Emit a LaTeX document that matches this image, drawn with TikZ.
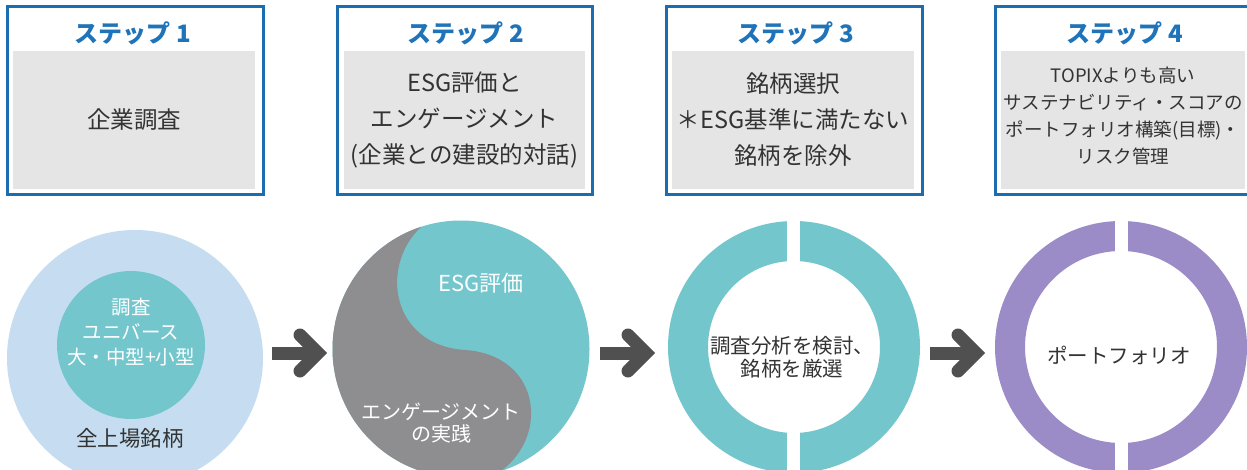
\documentclass[tikz,border=0pt]{standalone}
\usepackage{fontspec}
\setmainfont{Noto Sans CJK JP}
\usetikzlibrary{calc}
\definecolor{bordblue}{HTML}{1B6DB0}
\definecolor{titleblue}{HTML}{1E73B9}
\definecolor{boxgray}{HTML}{E5E5E5}
\definecolor{darktext}{HTML}{333333}
\definecolor{lblue}{HTML}{C6DDF1}
\definecolor{teal}{HTML}{74C6CD}
\definecolor{yingray}{HTML}{8E8D90}
\definecolor{purple}{HTML}{9B8CC8}
\definecolor{arrowgray}{HTML}{505050}
\newcommand\fatarrow[2]{%
  \draw[arrowshaft] (#1) -- ($(#2)+(-9,0)$);
  \draw[arrowhead] ($(#2)+(-27,-18)$) -- ($(#2)+(-9,0)$) -- ($(#2)+(-27,18)$);
}
\begin{document}
\begin{tikzpicture}[x=1pt,y=-1pt,
  stepframe/.style={draw=bordblue, line width=3pt, minimum width=256pt, minimum height=188pt, inner sep=0pt},
  graybox/.style={fill=boxgray, minimum width=242pt, minimum height=138pt, inner sep=0pt, align=center, text=darktext, font=\fontsize{23.5}{36}\selectfont},
  steptitle/.style={text=titleblue, font=\fontsize{24}{28}\selectfont\bfseries, inner sep=0pt},
  arrowshaft/.style={draw=arrowgray, line width=13pt, line cap=butt},
  arrowhead/.style={draw=arrowgray, line width=13pt, line cap=round, line join=miter},
  whitetxt/.style={text=white, align=center, inner sep=0pt},
  darktxt/.style={text=darktext, align=center, inner sep=0pt},
  gapbar/.style={fill=white}
]
\useasboundingbox (0,0) rectangle (1247,470);
\fill[white] (0,0) rectangle (1247,470);

% ---- step boxes ----
\node[stepframe] (f1) at (135,101) {};
\node[graybox] (g1) at (134,120) {企業調査};
\node[steptitle] (t1) at (133,33) {ステップ 1};

\node[stepframe, minimum width=255pt] (f2) at (464.5,101) {};
\node[graybox, minimum width=241pt] (g2) at (464.5,120) {ESG評価と\\エンゲージメント\\(企業との建設的対話)};
\node[steptitle] (t2) at (466,33) {ステップ 2};

\node[stepframe] (f3) at (794,101) {};
\node[graybox] (g3) at (793,120) {銘柄選択\\＊ESG基準に満たない\\銘柄を除外};
\node[steptitle] (t3) at (796,33) {ステップ 3};

\node[stepframe] (f4) at (1123,101) {};
\node[graybox, minimum width=244pt, font=\fontsize{18.5}{27}\selectfont] (g4) at (1123,120) {};
\node[darktxt, font=\fontsize{18.5}{27}\selectfont] (g4t) at (1123,116) {TOPIXよりも高い\\サステナビリティ・スコアの\\ポートフォリオ構築(目標)・\\リスク管理};
\node[steptitle] (t4) at (1125,33) {ステップ 4};

% ---- circle 1 ----
\node[circle, fill=lblue, minimum size=256pt, inner sep=0pt] (c1) at (135,358) {};
\node[circle, fill=teal, minimum size=148pt, inner sep=0pt] (c1i) at (131,345) {};
\node[whitetxt, font=\fontsize{19.5}{25}\selectfont] (c1t) at (131,332) {調査\\ユニバース\\大・中型+小型};
\node[darktxt, font=\fontsize{21.5}{24}\selectfont] (c1b) at (130,438) {全上場銘柄};

% ---- circle 2 (yin-yang) ----
\node[circle, fill=teal, minimum size=257pt, inner sep=0pt] (c2) at (461,349) {};
\begin{scope}
  \clip (c2.center) circle[radius=128.5pt];
  \fill[yingray] (421,227) -- (421,200) -- (300,200) -- (300,500) -- (501,500) -- (501,471)
     .. controls (550,435) and (540,355) .. (465,350)
     .. controls (390,345) and (380,265) .. (421,227) -- cycle;
\end{scope}
\node[whitetxt, font=\fontsize{22}{24}\selectfont] (c2a) at (481,283) {ESG評価};
\node[whitetxt, font=\fontsize{20}{22}\selectfont] (c2b) at (441,423) {エンゲージメント\\の実践};

% ---- circle 3 ----
\node[circle, draw=teal, line width=40pt, minimum size=212pt, inner sep=0pt] (c3) at (794,347) {};
\fill[gapbar] (787,205) rectangle (800,275);
\fill[gapbar] (787,420) rectangle (800,480);
\node[darktxt, font=\fontsize{20.5}{23}\selectfont] (c3t) at (792,357) {調査分析を検討、\\銘柄を厳選};

% ---- circle 4 ----
\node[circle, draw=purple, line width=30pt, minimum size=222pt, inner sep=0pt] (c4) at (1121,347) {};
\fill[gapbar] (1115,205) rectangle (1128,265);
\fill[gapbar] (1115,425) rectangle (1128,480);
\node[darktxt, font=\fontsize{20.5}{23}\selectfont] (c4t) at (1119,355) {ポートフォリオ};

% ---- arrows ----
\coordinate (a1s) at (272,353);
\coordinate (a1e) at (327,353);
\coordinate (a2s) at (600,353);
\coordinate (a2e) at (655,353);
\coordinate (a3s) at (930,353);
\coordinate (a3e) at (985,353);
\fatarrow{a1s}{a1e}
\fatarrow{a2s}{a2e}
\fatarrow{a3s}{a3e}
\end{tikzpicture}
\end{document}
